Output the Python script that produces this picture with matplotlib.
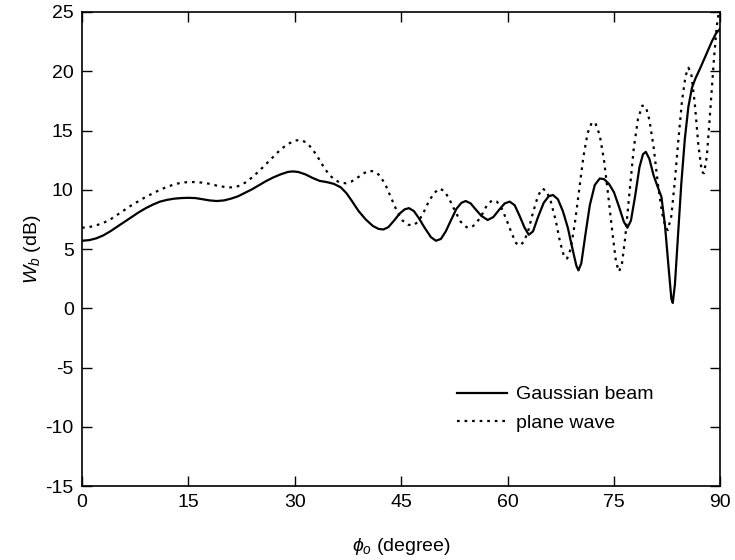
import matplotlib
matplotlib.use("Agg")
import matplotlib.pyplot as plt

plt.rcParams['font.family'] = ['Liberation Sans', 'DejaVu Sans']
plt.rcParams['axes.unicode_minus'] = False
plt.rcParams['mathtext.fontset'] = 'custom'
plt.rcParams['mathtext.it'] = 'Liberation Sans:italic'
plt.rcParams['mathtext.rm'] = 'Liberation Sans'

gauss_x = [0, 1, 2, 3, 4, 5, 6, 7, 8, 9, 10, 11, 12, 13, 14, 15, 16, 17, 18, 19, 20,
           21, 22, 23, 24, 25, 26, 27, 28, 29, 29.7, 30.5, 31.5, 32.5, 33.5, 34.5,
           35.5, 36.5, 37.3, 38, 39, 40, 41, 41.8, 42.5, 43.2, 44, 44.8, 45.5, 46.1,
           46.8, 47.5, 48.3, 49.2, 49.9, 50.6, 51.3, 52, 52.8, 53.5, 54.1, 54.8, 55.5,
           56.3, 57.2, 58, 58.8, 59.6, 60.3, 61, 61.7, 62.4, 63.0, 63.6, 64.3, 65.1,
           65.8, 66.4, 67.1, 67.8, 68.5, 69.2, 69.7, 70.0, 70.4, 71.0, 71.6, 72.3,
           73.0, 73.6, 74.3, 75.0, 75.7, 76.4, 76.9, 77.4, 78.0, 78.6, 79.1, 79.5,
           80.0, 80.6, 81.2, 81.7, 82.2, 82.7, 83.1, 83.3, 83.6, 84.0, 84.5, 85.0,
           85.5, 86.0, 86.5, 87.2, 88.0, 88.8, 89.4, 90]
gauss_y = [5.7, 5.75, 5.9, 6.15, 6.5, 6.9, 7.3, 7.7, 8.1, 8.45, 8.75, 9.0, 9.15, 9.25,
           9.3, 9.32, 9.3, 9.2, 9.1, 9.05, 9.1, 9.25, 9.45, 9.75, 10.05, 10.4, 10.75,
           11.05, 11.3, 11.5, 11.55, 11.5, 11.3, 11.0, 10.75, 10.65, 10.5, 10.2, 9.7,
           9.1, 8.2, 7.5, 6.95, 6.7, 6.65, 6.85, 7.4, 8.0, 8.35, 8.45, 8.2, 7.6, 6.8,
           6.0, 5.7, 5.85, 6.5, 7.4, 8.4, 8.9, 9.05, 8.85, 8.35, 7.8, 7.45, 7.7, 8.3,
           8.85, 9.0, 8.7, 7.8, 6.8, 6.2, 6.5, 7.7, 8.9, 9.45, 9.56, 9.2, 8.2, 6.8,
           4.9, 3.6, 3.2, 3.8, 6.3, 8.7, 10.4, 10.95, 10.9, 10.5, 9.8, 8.6, 7.3, 6.8,
           7.4, 9.5, 11.9, 13.0, 13.2, 12.6, 11.2, 10.2, 9.4, 7.0, 3.5, 0.8, 0.45,
           2.0, 5.8, 10.5, 14.3, 17.0, 18.6, 19.4, 20.3, 21.4, 22.5, 23.2, 23.6]

plane_x = [0, 1, 2, 3, 4, 5, 6, 7, 8, 9, 10, 11, 12, 13, 14, 15, 16, 17, 18, 19, 20,
           21, 22, 23, 24, 25, 26, 27, 28, 29, 30, 30.8, 31.6, 32.4, 33.2, 34, 34.8,
           35.6, 36.4, 37.2, 38, 38.8, 39.6, 40.4, 41.2, 42, 42.8, 43.6, 44.4, 45.2,
           46, 46.7, 47.4, 48.1, 48.8, 49.6, 50.4, 51.1, 51.8, 52.6, 53.4, 54.2, 54.8,
           55.5, 56.3, 57.1, 57.8, 58.5, 59.2, 59.9, 60.6, 61.2, 61.7, 62.3, 62.9,
           63.6, 64.3, 64.9, 65.5, 66.1, 66.8, 67.4, 68.0, 68.4, 68.9, 69.5, 70.1,
           70.7, 71.3, 71.9, 72.4, 73.0, 73.6, 74.2, 74.8, 75.3, 75.7, 76.1, 76.6,
           77.2, 77.8, 78.4, 79.0, 79.5, 80.0, 80.6, 81.2, 81.8, 82.3, 82.6, 83.1,
           83.6, 84.1, 84.6, 85.1, 85.5, 85.9, 86.4, 86.9, 87.4, 87.7, 88.1, 88.6,
           89.1, 89.5, 89.8]
plane_y = [6.8, 6.85, 7.0, 7.2, 7.5, 7.9, 8.3, 8.7, 9.05, 9.4, 9.7, 10.0, 10.25,
           10.45, 10.6, 10.65, 10.65, 10.6, 10.5, 10.35, 10.25, 10.2, 10.3, 10.6,
           11.05, 11.6, 12.2, 12.8, 13.4, 13.85, 14.15, 14.2, 14.0, 13.5, 12.8, 12.0,
           11.3, 10.85, 10.6, 10.55, 10.7, 11.0, 11.35, 11.6, 11.55, 11.2, 10.4, 9.3,
           8.2, 7.4, 7.05, 7.0, 7.3, 8.0, 8.9, 9.7, 10.1, 9.9, 9.2, 8.2, 7.3, 6.85,
           6.8, 7.1, 7.8, 8.7, 9.1, 9.0, 8.4, 7.4, 6.3, 5.5, 5.3, 5.6, 6.5, 8.1, 9.5,
           10.1, 9.9, 9.0, 7.4, 5.6, 4.3, 4.2, 5.0, 7.2, 10.0, 12.8, 14.8, 15.7, 15.6,
           14.6, 12.5, 9.5, 6.3, 3.9, 3.1, 3.6, 6.0, 9.8, 13.5, 16.0, 17.1, 17.0,
           15.9, 13.6, 10.5, 8.0, 6.8, 6.6, 7.8, 10.8, 14.3, 17.5, 19.6, 20.3, 19.8,
           17.3, 13.8, 11.5, 11.4, 12.8, 16.8, 21.0, 23.8, 25.0]

x_ticks = [0, 15, 30, 45, 60, 75, 90]
y_ticks = [-15, -10, -5, 0, 5, 10, 15, 20, 25]

fig = plt.figure(figsize=(7.35, 5.6), dpi=100)
ax = fig.add_axes([0.1116, 0.132, 0.8684, 0.8466])

ax.plot(gauss_x, gauss_y, color='black', lw=1.6, ls='-', label='Gaussian beam',
        solid_joinstyle='round')
ax.plot(plane_x, plane_y, color='black', lw=1.6, ls=(0, (1.2, 2.2)), label='plane wave')

ax.set_xlim(0, 90)
ax.set_ylim(-15, 25)
ax.set_xticks(x_ticks)
ax.set_yticks(y_ticks)
ax.tick_params(direction='in', length=7, width=1, top=True, right=True,
               labelsize=14, pad=6)
for s in ax.spines.values():
    s.set_linewidth(1.2)

ax.set_xlabel(r'$\phi_o$ (degree)', fontsize=14, labelpad=18)
ax.set_ylabel(r'$W_b$ (dB)', fontsize=14, labelpad=2)

ax.legend(loc='upper left', bbox_to_anchor=(0.575, 0.228), frameon=False,
          fontsize=14, handlelength=2.6, handletextpad=0.45, labelspacing=0.55,
          borderaxespad=0)

fig.savefig('out.png', dpi=100)
